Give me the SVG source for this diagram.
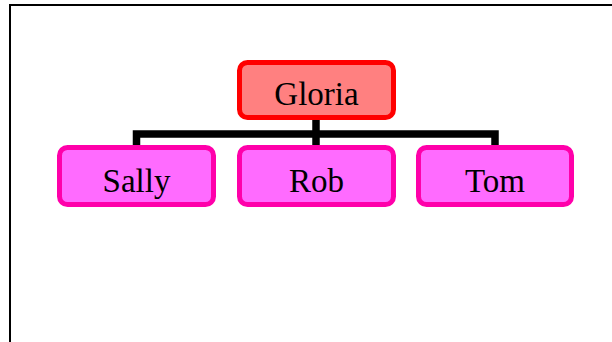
<svg xmlns="http://www.w3.org/2000/svg" width="612" height="342" viewBox="0 0 612 342">
  <style>
    .frame { fill: none; stroke: #000; stroke-width: 2; }
    .box { stroke-width: 5; }
    .root { fill: #FF8080; stroke: #FF0000; }
    .child { fill: #FF6BFF; stroke: #FF00AA; }
    .label { font-family: "Liberation Serif", "Times New Roman", serif; font-size: 33px; fill: #000; text-anchor: middle; }
    .link { fill: none; stroke: #000; stroke-width: 7.5; stroke-linejoin: miter; stroke-linecap: butt; }
  </style>
  <rect x="0" y="0" width="612" height="342" fill="#fff"/>
  <rect class="frame" x="10" y="5" width="620" height="360"/>

  <g id="connectors">
    <path class="link" d="M316 120 V145"/>
    <path class="link" d="M136.5 146 V134 H495 V146"/>
  </g>

  <g id="gloria">
    <rect class="box root" x="239.5" y="62.5" width="154" height="55" rx="8"/>
    <text class="label" x="316.5" y="105">Gloria</text>
  </g>
  <g id="sally">
    <rect class="box child" x="59.5" y="147.5" width="154" height="57" rx="8"/>
    <text class="label" x="136.5" y="191.5">Sally</text>
  </g>
  <g id="rob">
    <rect class="box child" x="239.5" y="147.5" width="154" height="57" rx="8"/>
    <text class="label" x="316.5" y="191.5">Rob</text>
  </g>
  <g id="tom">
    <rect class="box child" x="418.5" y="147.5" width="153" height="57" rx="8"/>
    <text class="label" x="495" y="191.5">Tom</text>
  </g>
</svg>
